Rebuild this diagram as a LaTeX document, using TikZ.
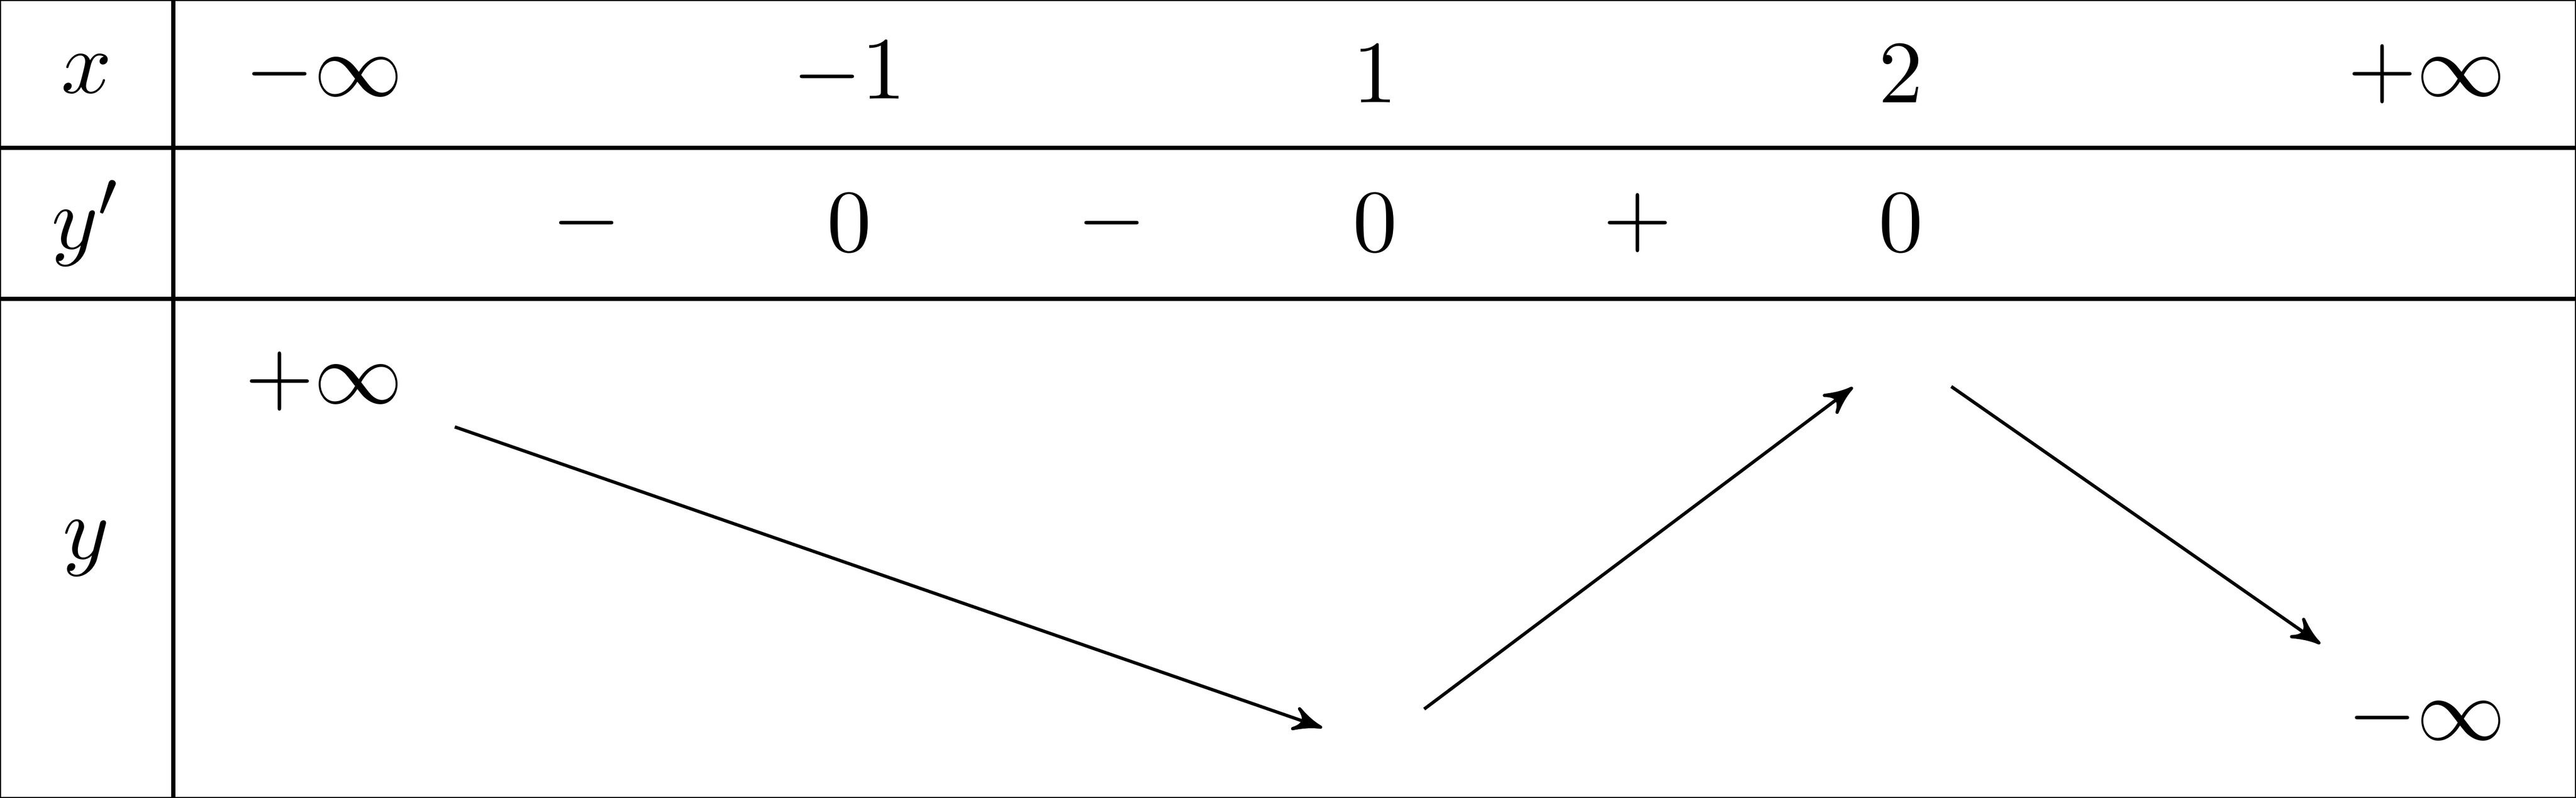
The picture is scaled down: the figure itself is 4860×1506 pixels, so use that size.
\documentclass[tikz,border=0pt]{standalone}
\usetikzlibrary{arrows}
\begin{document}
\begin{tikzpicture}[x=0.0654pt,y=-0.0654pt,
  every node/.style={font=\fontsize{11pt}{13pt}\selectfont},
  grid/.style={line width=0.5pt},
  frame/.style={line width=0.25pt},
  val/.style={inner sep=0pt, anchor=center},
  var/.style={line width=0.4pt, -stealth'}]
\useasboundingbox (0,0) rectangle (4860,1506);
\draw[frame] (0,0) rectangle (4860,1506);
\draw[grid] (327,0) -- (327,1506);
\draw[grid] (0,279) -- (4860,279);
\draw[grid] (0,564) -- (4860,564);
% row x
\node[val] (lx) at (163,140) {$x$};
\node[val] (x0) at (611,140) {$-\infty$};
\node[val] (x1) at (1602,140) {$-1$};
\node[val] (x2) at (2594,140) {$1$};
\node[val] (x3) at (3586,140) {$2$};
\node[val] (x4) at (4578,140) {$+\infty$};
% row y'
\node[val] (ld) at (163,421) {$y'$};
\node[val] (s1) at (1107,421) {$-$};
\node[val] (z1) at (1602,421) {$0$};
\node[val] (s2) at (2098,421) {$-$};
\node[val] (z2) at (2594,421) {$0$};
\node[val] (s3) at (3090,421) {$+$};
\node[val] (z3) at (3586,421) {$0$};
% row y
\node[val] (ly) at (163,1035) {$y$};
\node[val] (v0) at (611,720) {$+\infty$};
\node[val] (v1) at (2594,1408) {};
\node[val] (v2) at (3586,663) {};
\node[val] (v3) at (4578,1355) {$-\infty$};
\draw[var, shorten <=17.1pt, shorten >=6.9pt] (v0.center) -- (v1.center);
\draw[var, shorten <=7.6pt, shorten >=7.4pt] (v1.center) -- (v2.center);
\draw[var, shorten <=7.6pt, shorten >=16pt] (v2.center) -- (v3.center);
\end{tikzpicture}
\end{document}
